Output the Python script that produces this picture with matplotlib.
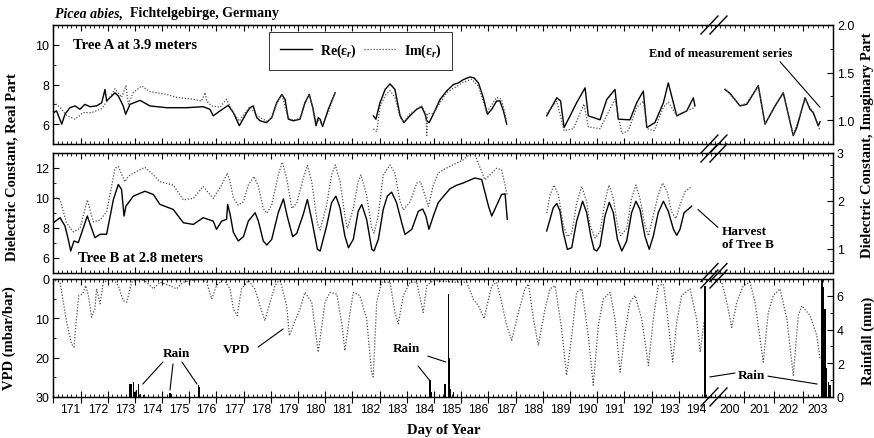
import numpy as np
import matplotlib
matplotlib.use("Agg")
import matplotlib.pyplot as plt
from matplotlib.lines import Line2D
from matplotlib.transforms import blended_transform_factory

nan = np.nan

# ---------------- values ----------------
# Tree A, 3.9 m: real part (left axis) and imaginary part (right axis)
a_re_day = [171.00, 171.12, 171.31, 171.43, 171.61, 171.80, 171.98, 172.16, 172.35, 172.59,
            172.78, 172.90, 172.96, 173.27, 173.39, 173.57, 173.66, 173.82, 174.19, 174.55,
            175.17, 175.90, 176.51, 176.76, 176.88, 177.13, 177.43, 177.62, 177.84, 178.11,
            178.23, 178.35, 178.48, 178.60, 178.84, 179.03, 179.21, 179.40, 179.52, 179.64,
            179.83, 180.07, 180.25, 180.41, 180.54, 180.66, 180.74, 180.81, 180.90, 181.11,
            181.36, nan,
            182.77, 182.86, 183.01, 183.20, 183.38, 183.56, 183.75, 183.89, 184.11, 184.36,
            184.54, 184.67, 184.73, 184.82, 184.97, 185.22, 185.46, 185.71, 185.89, 186.08,
            186.32, 186.47, 186.63, 186.81, 186.96, 187.12, 187.30, 187.42, 187.55, 187.67, nan,
            189.14, 189.51, 189.65, 189.78, 190.00, 190.24, 190.55, 190.67, 191.10, 191.35,
            191.65, 191.77, 192.20, 192.45, 192.69, 192.82, 193.12, 193.43, 193.61, 193.92,
            194.29, 194.53, 194.59, nan,
            200.34, 200.51, 200.85, 201.08, 201.36, 201.47, 201.70, 202.04, 202.32, 202.66,
            202.78, 203.06, 203.23, 203.34, 203.51, 203.57]
a_re = [6.58, 6.67, 6.0, 6.5, 6.83, 6.92, 6.75, 7.0, 6.88, 6.92,
        7.08, 7.75, 7.17, 7.58, 7.42, 6.92, 6.5, 7.0, 7.2, 6.92,
        6.83, 6.83, 6.88, 6.75, 6.42, 6.67, 6.95, 6.58, 5.92, 6.58,
        6.83, 6.92, 6.33, 6.17, 6.08, 6.33, 7.08, 7.5, 7.25, 6.25,
        6.17, 6.25, 7.08, 7.5, 6.83, 5.92, 6.33, 6.25, 5.88, 6.75,
        7.58, nan,
        6.42, 6.25, 7.08, 7.75, 8.03, 7.75, 6.42, 6.08, 6.42, 6.75,
        6.88, 6.5, 6.17, 6.08, 6.5, 7.25, 7.67, 8.0, 8.08, 8.25,
        8.38, 8.33, 8.08, 7.33, 6.5, 6.75, 7.17, 7.17, 6.67, 6.0, nan,
        6.42, 7.33, 7.17, 5.83, 6.42, 7.08, 7.83, 6.42, 6.22, 7.25,
        7.75, 6.25, 6.22, 7.08, 7.67, 5.83, 6.08, 7.08, 8.08, 6.42,
        6.67, 7.33, 6.92, nan,
        7.75, 7.55, 6.92, 7.0, 7.67, 7.95, 6.0, 6.92, 7.58, 5.42,
        5.83, 7.33, 6.75, 6.58, 5.92, 6.12]

a_im_day = [171.00, 171.25, 171.49, 171.80, 172.10, 172.41, 172.78, 173.08, 173.27, 173.51,
            173.67, 173.76, 173.94, 174.25, 174.55, 175.17, 175.53, 176.15, 176.45, 176.58,
            176.64, 176.82, 177.13, 177.37, 177.62, 177.84, 178.11, 178.23, 178.48, 178.84,
            179.03, 179.21, 179.40, 179.64, 179.83, 180.07, 180.25, 180.41, 180.54, 180.66,
            180.74, 180.90, 181.11, 181.36, nan,
            182.77, 182.89, 183.01, 183.20, 183.38, 183.56, 183.75, 183.89, 184.11, 184.54,
            184.70, 184.73, 184.75, 184.97, 185.46, 186.08, 186.38, 186.63, 186.93, 187.30,
            187.48, 187.67, nan,
            189.14, 189.51, 189.78, 190.12, 190.51, 190.67, 191.10, 191.65, 191.90, 192.14,
            192.45, 192.69, 192.84, 193.09, 193.43, 193.61, 193.92, 194.29, 194.59, nan,
            200.34, 200.85, 201.08, 201.47, 201.70, 202.32, 202.66, 203.06, 203.34, 203.57]
a_im = [1.19, 1.135, 1.05, 1.01, 1.08, 1.08, 1.12, 1.24, 1.33, 1.24,
        1.36, 1.17, 1.29, 1.36, 1.30, 1.27, 1.24, 1.22, 1.20, 1.29,
        1.20, 1.15, 1.135, 1.22, 1.08, 0.99, 1.10, 1.14, 1.05, 0.99,
        1.02, 1.17, 1.27, 1.02, 1.0, 1.02, 1.17, 1.27, 1.13, 0.98,
        1.0, 0.95, 1.08, 1.29, nan,
        0.91, 0.88, 1.14, 1.26, 1.31, 1.24, 1.03, 0.98, 1.07, 1.15,
        1.07, 0.84, 1.07, 1.07, 1.29, 1.40, 1.43, 1.36, 1.08, 1.24,
        1.22, 0.99, nan,
        1.07, 1.20, 0.89, 0.91, 1.17, 0.93, 0.91, 1.22, 0.86, 0.89,
        1.135, 1.20, 0.91, 0.89, 1.135, 1.19, 1.05, 1.10, 1.135, nan,
        1.33, 1.15, 1.18, 1.36, 0.96, 1.29, 0.84, 1.22, 1.08, 0.89]

# Tree B, 2.8 m
b_re_day = [171.00, 171.25, 171.43, 171.55, 171.64, 171.76, 171.92, 172.25, 172.53, 172.72,
            172.96, 173.21, 173.39, 173.51, 173.60, 173.67, 173.94, 174.37, 174.68, 174.92,
            175.41, 175.78, 176.15, 176.51, 176.88, 177.00, 177.19, 177.37, 177.41, 177.50,
            177.62, 177.80, 177.99, 178.17, 178.42, 178.54, 178.72, 178.85, 179.03, 179.27,
            179.46, 179.60, 179.80, 179.95, 180.19, 180.34, 180.50, 180.71, 180.81, 181.05,
            181.23, 181.39, 181.54, 181.72, 181.85, 182.03, 182.21, 182.34, 182.52, 182.71,
            182.79, 182.95, 183.13, 183.28, 183.44, 183.62, 183.81, 183.93, 184.18, 184.42,
            184.58, 184.70, 184.81, 184.97, 185.15, 185.40, 185.58, 185.83, 186.08, 186.50,
            186.75, 187.00, 187.12, 187.48, 187.61, 187.69, nan,
            189.14, 189.26, 189.38, 189.51, 189.63, 189.75, 189.90, 190.06, 190.24, 190.46,
            190.61, 190.76, 190.88, 190.98, 191.10, 191.28, 191.44, 191.59, 191.74, 191.90,
            192.08, 192.26, 192.42, 192.57, 192.75, 192.91, 193.06, 193.24, 193.43, 193.61,
            193.80, 193.92, 194.04, 194.19, 194.35, 194.47]
b_re = [8.33, 8.67, 8.11, 7.22, 6.44, 7.11, 7.0, 8.78, 7.33, 7.56,
        7.56, 9.89, 10.89, 10.56, 8.78, 9.44, 10.11, 10.44, 10.22, 9.56,
        9.22, 8.33, 8.22, 8.67, 8.44, 7.89, 8.44, 8.56, 9.56, 8.9,
        7.69, 7.11, 7.4, 8.44, 9.0, 8.44, 7.11, 6.84, 7.22, 9.0,
        9.93, 8.77, 7.4, 7.62, 8.89, 9.89, 8.55, 6.55, 6.44, 8.12,
        9.67, 10.11, 9.33, 7.44, 6.66, 7.22, 9.1, 9.55, 8.55, 6.55,
        6.44, 7.22, 9.22, 10.11, 10.38, 9.67, 8.33, 7.55, 7.89, 9.1,
        9.25, 8.77, 7.89, 8.77, 9.67, 10.22, 10.6, 10.84, 11.0, 11.33,
        11.22, 9.44, 8.78, 10.22, 10.27, 8.56, nan,
        7.78, 8.55, 9.33, 9.62, 9.1, 7.67, 6.55, 6.66, 8.44, 9.77,
        9.0, 7.44, 6.55, 6.44, 6.77, 8.77, 9.7, 9.0, 7.22, 6.44,
        7.11, 9.0, 9.77, 9.22, 7.44, 6.55, 7.44, 9.0, 9.77, 9.1,
        7.89, 7.49, 7.89, 9.0, 9.25, 9.44]

b_im_day = [171.00, 171.25, 171.49, 171.74, 171.98, 172.25, 172.47, 172.72, 172.96, 173.27,
            173.39, 173.63, 173.76, 173.94, 174.37, 174.68, 174.92, 175.41, 175.78, 176.15,
            176.51, 176.88, 177.19, 177.40, 177.50, 177.62, 177.80, 177.99, 178.17, 178.38,
            178.54, 178.72, 178.85, 179.03, 179.27, 179.42, 179.58, 179.77, 179.95, 180.19,
            180.34, 180.50, 180.71, 180.81, 181.05, 181.23, 181.37, 181.54, 181.72, 181.81,
            182.03, 182.21, 182.31, 182.52, 182.71, 182.79, 182.95, 183.13, 183.38, 183.56,
            183.75, 183.87, 184.12, 184.36, 184.50, 184.66, 184.79, 184.97, 185.15, 185.40,
            185.58, 185.83, 186.08, 186.32, 186.50, 186.87, 187.30, 187.48, 187.69, nan,
            189.14, 189.26, 189.41, 189.57, 189.75, 189.90, 190.06, 190.24, 190.43, 190.61,
            190.73, 190.92, 191.10, 191.28, 191.43, 191.59, 191.74, 191.86, 192.08, 192.26,
            192.42, 192.57, 192.75, 192.88, 193.06, 193.24, 193.40, 193.57, 193.73, 193.89,
            194.04, 194.22, 194.47]
b_im = [2.09, 2.02, 1.53, 1.35, 1.42, 2.02, 1.56, 1.60, 1.77, 2.68,
        2.72, 2.40, 2.51, 2.58, 2.70, 2.54, 2.40, 2.33, 2.02, 2.05,
        2.30, 2.05, 2.33, 2.58, 2.40, 2.05, 1.91, 1.98, 2.33, 2.51,
        2.30, 1.84, 1.74, 1.91, 2.54, 2.81, 2.47, 1.84, 1.95, 2.47,
        2.74, 2.40, 1.53, 1.39, 1.91, 2.54, 2.75, 2.40, 1.70, 1.42,
        1.84, 2.40, 2.54, 2.12, 1.42, 1.32, 1.70, 2.54, 2.75, 2.58,
        1.98, 1.81, 1.98, 2.37, 2.40, 2.12, 1.88, 2.33, 2.58, 2.67,
        2.72, 2.79, 2.86, 2.98, 2.96, 2.44, 2.68, 2.65, 2.12, nan,
        1.74, 2.12, 2.33, 2.12, 1.49, 1.25, 1.32, 1.95, 2.30, 1.98,
        1.49, 1.22, 1.35, 1.98, 2.33, 2.05, 1.49, 1.27, 1.42, 2.05,
        2.33, 2.05, 1.49, 1.27, 1.70, 2.12, 2.37, 2.19, 1.77, 1.63,
        1.91, 2.19, 2.30]

# vapour pressure deficit (mbar/bar)
vpd_day = [171.06, 171.25, 171.37, 171.49, 171.67, 171.76, 171.86, 171.94, 172.08, 172.19,
           172.29, 172.41, 172.53, 172.59, 172.72, 172.84, 173.21, 173.39, 173.57, 173.70,
           173.88, 174.19, 174.43, 174.68, 174.92, 175.29, 175.53, 175.78, 176.39, 176.64,
           176.82, 177.00, 177.25, 177.50, 177.62, 177.76, 177.92, 178.17, 178.41, 178.60,
           178.78, 178.97, 179.15, 179.33, 179.58, 179.68, 179.82, 180.07, 180.25, 180.50,
           180.74, 180.99, 181.17, 181.42, 181.60, 181.72, 181.91, 182.03, 182.27, 182.52,
           182.70, 182.76, 182.89, 183.07, 183.38, 183.56, 183.68, 183.87, 184.12, 184.36,
           184.60, 184.73, 184.97, 185.71, 186.20, 186.44, 186.63, 186.84, 187.00, 187.12,
           187.30, 187.48, 187.67, 187.85, 188.10, 188.34, 188.47, 188.65, 188.83, 189.08,
           189.26, 189.45, 189.69, 189.87, 190.06, 190.24, 190.43, 190.67, 190.85, 191.04,
           191.22, 191.47, 191.65, 191.84, 192.02, 192.20, 192.39, 192.63, 192.88, 193.06,
           193.24, 193.43, 193.55, 193.77, 193.92, 194.10, 194.41, 194.65, 194.78, 194.92, nan,
           200.06, 200.23, 200.40, 200.57, 200.74, 200.96, 201.19, 201.36, 201.64, 201.81,
           201.98, 202.21, 202.44, 202.66, 202.83, 202.95, 203.23, 203.46, 203.57]
vpd = [0.4, 0.8, 5.9, 11.0, 16.5, 17.3, 9.3, 4.2, 3.8, 1.7,
       4.2, 9.7, 7.6, 2.5, 6.3, 0.8, 0.0, 1.7, 5.5, 5.9,
       0.8, 0.0, 0.8, 2.5, 0.8, 1.7, 2.5, 0.8, 0.0, 0.8,
       5.1, 1.7, 0.0, 2.5, 7.6, 9.3, 2.5, 0.4, 2.5, 6.8,
       10.6, 5.9, 1.7, 0.0, 6.8, 14.4, 11.8, 7.6, 3.4, 5.9,
       18.6, 5.9, 3.4, 3.8, 11.0, 18.2, 8.5, 3.4, 4.2, 10.1,
       23.7, 24.9, 5.9, 0.8, 0.8, 8.5, 11.4, 4.2, 0.8, 0.8,
       8.5, 1.7, 0.4, 0.8, 0.8, 5.1, 6.8, 10.1, 5.1, 1.7,
       0.8, 5.9, 11.8, 15.6, 8.5, 2.5, 1.3, 10.1, 16.9, 7.6,
       2.5, 1.7, 12.7, 24.5, 14.4, 3.4, 2.5, 14.4, 27.0, 11.8,
       5.1, 3.4, 10.1, 23.7, 13.5, 5.9, 4.2, 10.1, 22.0, 10.1,
       1.7, 1.3, 7.6, 21.1, 11.0, 4.2, 2.5, 10.1, 18.6, 11.0, nan,
       0.8, 0.8, 5.9, 12.3, 5.9, 1.7, 0.8, 5.9, 21.1, 8.5,
       4.2, 2.5, 10.1, 24.5, 9.3, 6.8, 9.3, 14.4, 20.3]

# rainfall (mm)
rain_day = [173.82, 173.88, 173.94, 174.00, 174.06, 174.12, 174.19, 174.31, 174.68, 175.29,
            175.35, 176.02, 176.33, 176.39, 184.85, 184.91, 185.40, 185.52, 185.56, 185.61,
            185.71, 194.93, 194.96, 203.63, 203.66, 203.70, 203.74, 203.80, 203.85, 203.91]
rain = [0.8, 0.8, 0.9, 0.3, 0.4, 0.8, 0.2, 0.1, 0.06, 0.26,
        0.2, 0.3, 0.7, 0.6, 1.0, 0.3, 0.8, 6.1, 2.3, 0.5,
        0.3, 6.6, 6.6, 7.0, 7.0, 6.5, 5.2, 1.7, 0.9, 0.7]

label_days = list(range(171, 195)) + [200, 201, 202, 203]

# ---------------- style ----------------
plt.rcParams['font.family'] = ['Liberation Sans', 'DejaVu Sans']
plt.rcParams['mathtext.fontset'] = 'custom'
plt.rcParams['mathtext.rm'] = 'Liberation Serif:bold'
plt.rcParams['mathtext.it'] = 'Liberation Serif:italic:bold'
plt.rcParams['axes.linewidth'] = 0.9

SERIF = dict(family='Liberation Serif', weight='bold')
DOT = (0, (1, 1.4))
DOTC = '0.3'

# broken day axis: days 195.25..200 squeezed to almost nothing
brk_day = [100.0, 171.0, 195.25, 200.0, 204.0, 300.0]
brk_u = [-1931.2, 0.0, 659.6, 661.7, 779.4, 3601.8]


def fwd(d):
    return np.interp(d, brk_day, brk_u)


def inv(u):
    return np.interp(u, brk_u, brk_day)


fig = plt.figure(figsize=(8.74, 4.39), dpi=100)
L, W = 53.3 / 874, 779.4 / 874


def panel(top, bottom):
    ax = fig.add_axes([L, (439 - bottom) / 439, W, (bottom - top) / 439])
    ax.set_xscale('function', functions=(fwd, inv))
    ax.set_xlim(171, 204)
    return ax


ax1 = panel(26, 145)
ax2 = panel(154, 273.5)
ax3 = panel(280, 398)

major_x = list(range(171, 195)) + [201, 202, 203]
minor_x = np.concatenate([np.arange(171, 195.2, 1 / 6), np.arange(200, 204.01, 1 / 6)])

twins = []
for ax in (ax1, ax2, ax3):
    ax.set_xticks(major_x)
    ax.set_xticks(minor_x, minor=True)
    ax.tick_params(axis='x', which='both', direction='in', top=True, labelbottom=False)
    ax.tick_params(axis='x', which='major', length=4, width=0.8)
    ax.tick_params(axis='x', which='minor', length=2, width=0.6)
    ax.tick_params(axis='y', which='both', direction='in', labelsize=9, pad=3)
    ax.tick_params(axis='y', which='major', length=4)
    ax.tick_params(axis='y', which='minor', length=2)
    tw = ax.twinx()
    tw.tick_params(axis='y', which='both', direction='in', labelsize=9, pad=3)
    tw.tick_params(axis='y', which='major', length=4)
    tw.tick_params(axis='y', which='minor', length=2)
    twins.append(tw)
ax1r, ax2r, ax3r = twins

# bottom axis of the lowest panel: long crossing ticks, labels between them
ax3.tick_params(axis='x', which='major', direction='inout', length=9, top=False)
ax3.tick_params(axis='x', which='minor', top=False)
ax3r.xaxis.set_visible(True)
ax3r.tick_params(axis='x', which='both', bottom=False, top=True, labelbottom=False,
                 direction='in')
ax3r.tick_params(axis='x', which='major', length=4)
ax3r.tick_params(axis='x', which='minor', length=2)
trans = blended_transform_factory(ax3.transData, ax3.transAxes)
for d in label_days:
    off = 0.64 if d < 200 else 0.5
    ax3.text(d + off, -0.105, str(d), transform=trans, ha='center', va='center', fontsize=8.8)

# ---- panel 1: tree A ----
ax1.plot(a_re_day, a_re, color='k', lw=1.0)
ax1r.plot(a_im_day, a_im, color=DOTC, lw=0.9, ls=DOT)
ax1.set_ylim(5, 11)
ax1.set_yticks([6, 8, 10])
ax1.set_yticks([5, 7, 9, 11], minor=True)
ax1r.set_ylim(0.75, 2.0)
ax1r.set_yticks([1.0, 1.5, 2.0], ['1.0', '1.5', '2.0'])
ax1r.set_yticks(np.arange(0.75, 2.01, 0.25), minor=True)
ax1.text(171.73, 10.0, 'Tree A at 3.9 meters', fontsize=10.5, va='center', **SERIF)
ax1.text(200.2, 9.6, 'End of measurement series', fontsize=9, ha='center', va='center', **SERIF)
ax1.annotate('', xy=(203.57, 6.85), xytext=(202.21, 9.15),
             arrowprops=dict(arrowstyle='-', lw=0.8, color='k', shrinkA=0, shrinkB=0))
handles = [Line2D([], [], color='k', lw=1.0), Line2D([], [], color=DOTC, lw=0.9, ls=DOT)]
leg = ax1r.legend(handles, ['Re(ε$_r$)', 'Im(ε$_r$)'], ncol=2, loc='upper left',
                  bbox_to_anchor=(0.277, 0.945), frameon=True, fancybox=False,
                  prop=dict(family='Liberation Serif', weight='bold', size=10),
                  handlelength=2.3, handletextpad=0.6, columnspacing=0.5,
                  borderpad=0.75, borderaxespad=0)
leg.get_frame().set_edgecolor('k')
leg.get_frame().set_linewidth(0.7)

title = fig.text(55 / 874, (439 - 14) / 439, 'Picea abies,', fontsize=10, va='center',
                 family='Liberation Serif', weight='bold', style='italic')
ax1.annotate('  Fichtelgebirge, Germany', xy=(1, 0), xycoords=title, va='bottom',
             fontsize=10, annotation_clip=False, **SERIF)

# ---- panel 2: tree B ----
ax2.plot(b_re_day, b_re, color='k', lw=1.0)
ax2r.plot(b_im_day, b_im, color=DOTC, lw=0.9, ls=DOT)
ax2.set_ylim(5, 13)
ax2.set_yticks([6, 8, 10, 12])
ax2.set_yticks([5, 7, 9, 11, 13], minor=True)
ax2r.set_ylim(0.5, 3)
ax2r.set_yticks([1, 2, 3])
ax2r.set_yticks(np.arange(0.5, 3.01, 0.25), minor=True)
ax2.text(171.9, 6.02, 'Tree B at 2.8 meters', fontsize=10.5, va='center', **SERIF)
ax2.text(200.23, 7.35, 'Harvest\nof Tree B', fontsize=9.5, ha='left', va='center',
         linespacing=1.1, **SERIF)
ax2.annotate('', xy=(200.1, 8.02), xytext=(194.7, 9.22),
             arrowprops=dict(arrowstyle='-', lw=0.8, color='k', shrinkA=0, shrinkB=0))

# ---- panel 3: VPD and rain ----
ax3.plot(vpd_day, vpd, color=DOTC, lw=0.9, ls=DOT)
ax3.set_ylim(30, 0)
ax3.set_yticks([0, 10, 20, 30])
ax3.set_yticks([5, 15, 25], minor=True)
ax3r.bar(rain_day, rain, width=0.04, color='k', linewidth=0)
ax3r.set_ylim(0, 7)
ax3r.set_yticks([0, 2, 4, 6])
ax3r.set_yticks([1, 3, 5, 7], minor=True)

ax3.text(175.53, 18.8, 'Rain', fontsize=9.5, ha='center', va='center', **SERIF)
ax3.text(177.75, 17.8, 'VPD', fontsize=9.5, ha='center', va='center', **SERIF)
ax3.text(183.99, 17.5, 'Rain', fontsize=9.5, ha='center', va='center', **SERIF)
ax3.text(201.24, 24.4, 'Rain', fontsize=9.5, ha='center', va='center', **SERIF)
leaders = [((175.03, 21.1), (174.29, 26.7)), ((175.40, 21.6), (175.29, 28.2)),
           ((175.73, 21.1), (176.28, 26.7)), ((178.53, 17.3), (179.45, 12.7)),
           ((184.41, 22.1), (184.85, 25.9)), ((184.77, 19.6), (185.43, 21.1)),
           ((200.68, 23.9), (195.14, 24.9)), ((201.80, 24.7), (203.47, 26.7))]
for start, end in leaders:
    ax3.annotate('', xy=end, xytext=start,
                 arrowprops=dict(arrowstyle='-', lw=0.8, color='k', shrinkA=0, shrinkB=0))

# ---- break marks "//" on every panel edge ----
frac = 0.5 * (fwd(195.25) + fwd(200.0)) / fwd(204.0)
bx = (L + frac * W) * 874
for ax in (ax1, ax2, ax3):
    pos = ax.get_position()
    for yf in (pos.y0, pos.y1):
        yp = yf * 439
        for k in (-4.5, 4.5):
            fig.add_artist(Line2D([(bx + k - 8.5) / 874, (bx + k + 8.5) / 874],
                                  [(yp - 9) / 439, (yp + 9) / 439],
                                  transform=fig.transFigure, color='k', lw=1.0))

# ---- axis titles ----
fig.text(12 / 874, (439 - 167.5) / 439, 'Dielectric Constant, Real Part', rotation=90,
         ha='center', va='center', fontsize=10.5, **SERIF)
fig.text(9 / 874, (439 - 338) / 439, 'VPD (mbar/bar)', rotation=90,
         ha='center', va='center', fontsize=10.5, **SERIF)
fig.text(868 / 874, (439 - 145) / 439, 'Dielectric Constant, Imaginary Part', rotation=90,
         ha='center', va='center', fontsize=10.5, **SERIF)
fig.text(868 / 874, (439 - 341) / 439, 'Rainfall (mm)', rotation=90,
         ha='center', va='center', fontsize=10.5, **SERIF)
fig.text(443.5 / 874, (439 - 431) / 439, 'Day of Year', ha='center', va='center',
         fontsize=10.5, **SERIF)

fig.savefig('out.png', dpi=100)
